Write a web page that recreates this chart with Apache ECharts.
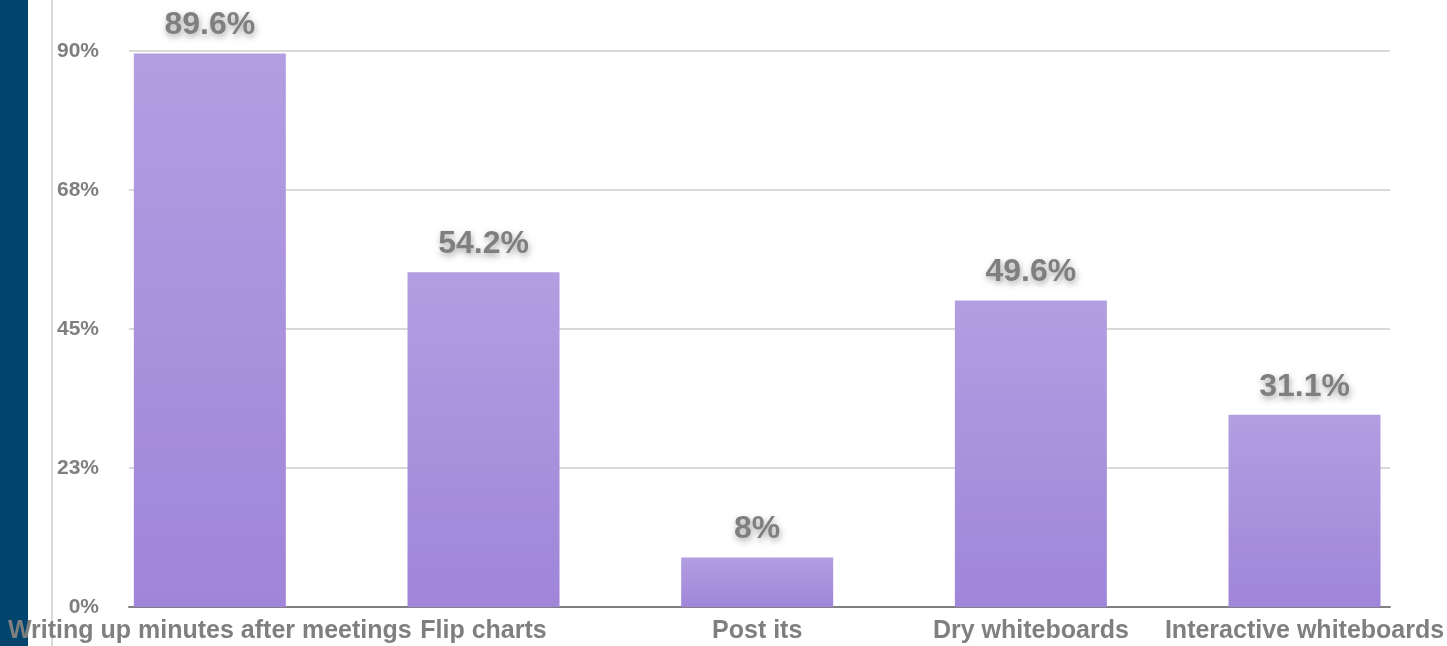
<!DOCTYPE html>
<html>
<head>
<meta charset="utf-8">
<style>
  html, body { margin: 0; padding: 0; background: #ffffff; }
  #chart { width: 1447px; height: 646px; }
</style>
<script src="https://cdn.jsdelivr.net/npm/echarts@6/dist/echarts.min.js"></script>
</head>
<body>
<div id="chart"></div>
<script>
// Tools used during meetings, share of respondents (%)
const categories = [
  'Writing up minutes after meetings',
  'Flip charts',
  'Post its',
  'Dry whiteboards',
  'Interactive whiteboards'
];
const shares = [89.6, 54.2, 8, 49.6, 31.1];

// Value axis: 0 to 90 in four steps (labels rounded)
const axisMax = 90;
const axisStep = 22.5;

const FONT = '"Liberation Sans", Arial, sans-serif';
const GREY = '#7f7f7f';

const chart = echarts.init(document.getElementById('chart'), null, { renderer: 'canvas' });

chart.setOption({
  animation: false,
  backgroundColor: '#ffffff',
  graphic: [
    // dark side band
    { type: 'rect', left: 0, top: 0, shape: { width: 28, height: 646 }, style: { fill: '#01446e' }, silent: true },
    // thin vertical rule
    { type: 'line', shape: { x1: 52, y1: 0, x2: 52, y2: 646 }, style: { stroke: '#d9d9d9', lineWidth: 2 }, silent: true }
  ],
  grid: [
    // bars
    { left: 73, right: 4, top: 51, bottom: 39 },
    // gridlines, value labels and baseline
    { left: 129, right: 57, top: 51, bottom: 39 }
  ],
  xAxis: [
    {
      type: 'category',
      gridIndex: 0,
      data: categories,
      axisLine: { show: false },
      axisTick: { show: false },
      axisLabel: {
        interval: 0,
        margin: 12,
        color: GREY,
        fontFamily: FONT,
        fontWeight: 'bold',
        fontSize: 25
      }
    },
    {
      type: 'category',
      gridIndex: 1,
      data: categories,
      axisLine: { show: true, lineStyle: { color: '#808080', width: 2 } },
      axisTick: { show: false },
      axisLabel: { show: false }
    }
  ],
  yAxis: [
    {
      type: 'value',
      gridIndex: 0,
      min: 0,
      max: axisMax,
      interval: axisStep,
      show: false,
      splitLine: { show: false }
    },
    {
      type: 'value',
      gridIndex: 1,
      min: 0,
      max: axisMax,
      interval: axisStep,
      axisLine: { show: false },
      axisTick: { show: false },
      splitLine: { show: true, lineStyle: { color: '#d9d9d9', width: 2 } },
      axisLabel: {
        margin: 30,
        color: GREY,
        fontFamily: FONT,
        fontWeight: 'bold',
        fontSize: 21,
        formatter: v => Math.round(v) + '%'
      }
    }
  ],
  series: [
    {
      type: 'bar',
      xAxisIndex: 0,
      yAxisIndex: 0,
      data: shares,
      barWidth: 152,
      z: 3,
      itemStyle: {
        color: new echarts.graphic.LinearGradient(0, 0, 0, 1, [
          { offset: 0, color: '#b39ee1' },
          { offset: 1, color: '#a085d9' }
        ])
      },
      label: {
        show: true,
        position: 'top',
        distance: 12,
        formatter: p => p.value + '%',
        color: GREY,
        fontFamily: FONT,
        fontWeight: 'bold',
        fontSize: 32,
        textShadowColor: 'rgba(0,0,0,0.35)',
        textShadowBlur: 6,
        textShadowOffsetX: 1,
        textShadowOffsetY: 3
      }
    }
  ]
});
</script>
</body>
</html>
